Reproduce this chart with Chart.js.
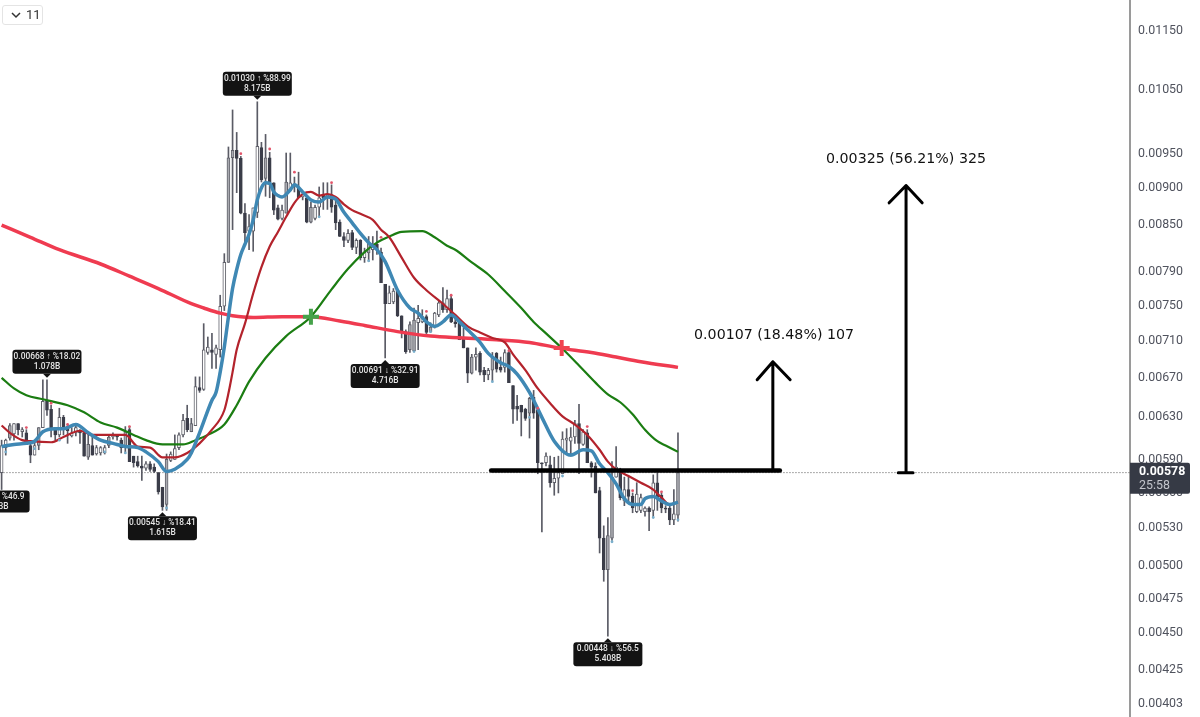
<!DOCTYPE html>
<html>
<head>
<meta charset="utf-8">
<style>
  html, body { margin: 0; padding: 0; background: #fff; overflow: hidden; }
  #wrap { position: relative; width: 1200px; height: 717px; }
  #collapse { position: absolute; left: 2px; top: 5px; width: 39px; height: 18px; border: 1px solid #e4e4e4; border-radius: 3px; background: #fff;
    font: 13px Roboto, sans-serif; color: #333; line-height: 18px; }
  #collapse svg { position: absolute; left: 8px; top: 6px; }
  #collapse span { position: absolute; left: 23px; top: 0; }
</style>
</head>
<body>
<div id="wrap">
  <canvas id="priceChart" width="1200" height="717"></canvas>
  <div id="collapse"><svg width="10" height="7"><path d="M1 1 L5 5 L9 1" fill="none" stroke="#333" stroke-width="1.5"/></svg><span>11</span></div>
</div>
<script src="https://cdn.jsdelivr.net/npm/chart.js@4"></script>
<script>
// prices are kept in points, 1 point = 0.00001
const POINT = 0.00001;

const opens = [
  578,601,610,614,624,616,615,603,594,603,
  620,647,638,620,613,630,621,612,615,617,
  615,592,603,595,596,596,603,611,612,608,
  601,618,593,588,584,582,586,583,578,565,
  550,589,590,601,613,629,616,622,660,658,
  697,700,695,700,749,802,944,955,943,866,
  842,842,867,959,914,944,908,873,859,866,
  897,903,901,888,887,854,859,874,891,887,
  891,877,854,835,830,840,821,830,808,814,
  818,825,815,775,752,754,768,738,720,700,
  699,730,731,737,720,725,739,753,745,758,
  731,730,713,702,675,692,696,678,673,678,
  696,681,681,697,662,641,642,638,634,650,
  637,587,587,585,569,573,577,608,607,611,
  624,604,615,587,584,562,522,497,522,574,
  580,553,563,557,544,545,544,547,545,569,
  558,547,547,537,541
];
const closes = [
  603,608,622,624,618,618,607,594,603,620,
  646,637,618,613,630,618,617,615,620,615,
  593,604,594,601,601,601,611,613,611,601,
  616,588,587,584,582,586,581,579,561,548,
  590,595,600,613,627,618,624,661,657,700,
  703,697,702,749,802,944,955,943,866,840,
  848,873,961,912,944,908,870,858,870,909,
  908,906,887,892,854,874,874,887,887,891,
  874,853,835,830,839,821,830,808,815,827,
  825,818,777,752,765,767,738,720,698,728,
  733,735,737,719,725,741,753,745,758,731,
  729,711,702,675,692,695,676,673,678,692,
  679,678,697,665,638,638,635,629,649,634,
  587,586,593,569,573,578,609,610,611,624,
  605,616,587,583,560,522,497,524,574,583,
  556,563,557,547,559,556,547,544,569,556,
  547,546,537,542,578
];
const highs = [
  608,609,624,624,624,620,618,606,606,620,
  668,668,642,620,639,632,623,620,622,618,
  617,615,613,603,602,603,613,615,613,610,
  621,621,593,593,593,588,588,586,578,565,
  595,597,613,615,633,642,629,671,671,729,
  714,718,705,762,813,960,1017,982,946,879,
  864,873,1030,967,979,952,908,877,877,951,
  951,916,923,895,888,881,877,902,908,908,
  905,884,857,840,844,843,832,831,820,835,
  835,842,820,775,773,770,768,738,722,731,
  747,750,745,739,730,742,756,771,768,762,
  735,731,724,702,695,702,698,681,680,697,
  697,692,700,700,662,652,642,639,650,657,
  639,587,596,593,592,593,616,619,620,627,
  643,618,618,588,587,565,532,539,588,602,
  582,574,574,560,569,559,548,548,576,578,
  560,549,549,563,615
];
const lows = [
  563,594,608,608,613,611,605,587,594,599,
  620,632,611,608,611,613,605,611,612,605,
  593,590,594,594,594,595,601,609,608,596,
  597,588,583,583,571,580,579,578,559,545,
  545,588,590,599,611,616,616,622,655,657,
  695,680,680,692,744,802,844,894,865,827,
  818,816,860,909,889,887,864,857,857,866,
  896,895,887,884,853,853,857,861,871,871,
  867,844,835,822,827,818,813,805,802,803,
  805,812,777,691,752,752,737,713,696,697,
  698,700,730,717,719,724,737,742,742,730,
  725,711,702,665,674,678,673,666,668,667,
  676,676,676,665,624,627,612,627,610,629,
  577,527,584,565,558,560,577,596,593,605,
  577,603,587,574,560,510,488,448,520,574,
  554,549,552,543,543,543,540,528,539,545,
  543,543,533,533,536
];
// up candles that the platform paints shaded instead of hollow
const shadedCandles = [2,9,21,26,30,40,46,55,56,64,69,75,89,99,100,104,114,119,128,147,148,164];

// moving averages, read at the bars where the curve can be made out
const fastBars = [0,3,6,8,10,13,15,18,21,24,27,30,33,35,38,40,42,45,46,48,51,52,53,54,55,56,57,58,59,60,61,62,63,64,65,66,67,68,70,71,73,75,77,79,81,83,85,87,89,91,93,96,99,101,103,105,107,109,111,113,116,118,121,123,125,128,131,134,138,141,143,145,147,149,151,153,155,156,158,160,162,164];
const fastValues = [602,604,605,607,616,619,619,623,615,608,605,602,601,597,588,579,581,590,596,615,647,655,676,703,737,770,793,812,825,838,857,884,901,908,907,895,890,888,898,905,895,884,881,888,885,867,853,839,827,818,803,768,747,741,731,726,731,739,731,722,708,696,686,682,674,655,630,607,594,599,598,586,578,568,555,550,550,555,557,553,550,552];

const midBars = [0,2,5,7,12,15,19,22,26,30,33,36,39,42,45,48,51,54,55,56,57,59,61,63,65,67,69,71,73,75,77,79,81,83,85,87,90,92,94,97,100,103,107,110,113,116,119,122,124,127,130,133,136,139,142,145,147,149,152,155,158,160,162,164];
const midValues = [622,615,608,607,606,611,617,613,613,613,602,601,592,592,596,605,618,637,654,676,700,729,764,796,822,841,861,880,892,895,890,892,888,878,870,865,857,844,834,808,783,768,752,739,726,719,713,708,695,678,659,644,631,623,613,599,588,581,575,569,563,556,550,552];

const slowBars = [0,3,6,10,16,20,24,28,32,35,39,44,47,50,54,57,60,64,69,75,80,84,88,91,94,97,102,105,108,110,114,118,122,126,129,132,136,140,144,147,150,153,156,159,161,164];
const slowValues = [670,659,652,648,642,635,625,620,613,608,604,604,608,613,623,642,666,691,715,737,769,794,815,827,835,841,842,834,823,818,802,787,767,747,731,718,701,683,665,653,645,633,618,607,603,597];

const longBars = [0,7,14,24,31,38,46,49,53,56,61,68,75,82,88,96,104,112,120,128,135,143,149,155,164];
const longValues = [850,834,818,800,785,770,752,747,741,738,736,737,737,732,727,720,715,713,711,708,702,697,692,687,681];

// small dots over and under single candles
const highDotBars = [6,12,16,31,58,65,71,80,92,103,109,123,130,142,153,160];
const highDotValues = [620,644,623,621,950,957,923,908,834,743,762,699,639,621,562,561];
const lowDotBars = [1,8,14,25,30,40,77,89,100,104,119,128,136,148,158,164];
const lowDotValues = [597,600,608,597,596,547,861,804,698,720,666,630,575,519,539,537];

// crossing signs
const crossUpBar = [75];
const crossUpValue = [737];
const crossDownBar = [135.8];
const crossDownValue = [702];

const lastPrice = 578;
const lastTimer = '25:58';

// drawn level and the two arrows, given in bars and points
const levelBars = [118.7, 188.7];
const levelValues = [580, 580];
const shortArrowBars = [187, 187, 183.2, 187, 191.2];
const shortArrowValues = [580, 687, 668, 687, 668];
const tallArrowBars = [217.4, 221, 219.3, 219.3, 215.2, 219.3, 223.2];
const tallArrowValues = [578, 578, 578, 904, 880, 904, 880];

const noteBars = [167.9, 199.9];
const noteValues = [716, 942];
const noteTexts = ['0.00107 (18.48%) 107', '0.00325 (56.21%) 325'];

// high / low callouts
const calloutBars = [62, 11, 39, 93, 147];
const calloutValues = [1030, 668, 545, 691, 448];
const calloutSides = ['above', 'above', 'below', 'below', 'below'];
const calloutTop = ['0.01030 ↑ %88.99', '0.00668 ↑ %18.02', '0.00545 ↓ %18.41', '0.00691 ↓ %32.91', '0.00448 ↓ %56.5'];
const calloutBottom = ['8.175B', '1.078B', '1.615B', '4.716B', '5.408B'];
const clippedTop = '↓ %46.9';
const clippedBottom = '3B';

const priceTicks = [0.0115, 0.0105, 0.0095, 0.009, 0.0085, 0.0079, 0.0075, 0.0071, 0.0067, 0.0063, 0.0059, 0.0056, 0.0053, 0.005, 0.00475, 0.0045, 0.00425, 0.00403];

const toPrice = v => v * POINT;
const pairUp = (bars, values) => bars.map((b, i) => ({ x: b, y: toPrice(values[i]) }));

const bars = opens.map((_, i) => i);
const isUp = i => closes[i] >= opens[i];

function bodyFill(i) {
  if (!isUp(i)) return '#3b3d49';
  return shadedCandles.includes(i) ? '#a9aab0' : '#ffffff';
}

function curve(label, b, v, color, width, order) {
  return {
    type: 'line', label: label, data: pairUp(b, v), borderColor: color, borderWidth: width,
    pointRadius: 0, tension: 0.35, cubicInterpolationMode: 'monotone', order: order
  };
}

function stroke(label, b, v, width, order) {
  return {
    type: 'line', label: label, data: pairUp(b, v), borderColor: '#000', borderWidth: width,
    pointRadius: 0, tension: 0, borderCapStyle: 'round', borderJoinStyle: 'round', order: order
  };
}

function dots(label, b, v, color, order) {
  return {
    type: 'line', label: label, data: pairUp(b, v), showLine: false, pointRadius: 1.4,
    pointBorderWidth: 0, pointBackgroundColor: color, order: order
  };
}

function cross(label, b, v, color, order) {
  return {
    type: 'line', label: label, data: pairUp(b, v), showLine: false, pointStyle: 'cross',
    pointRadius: 8, pointBorderWidth: 4, pointBorderColor: color, order: order
  };
}

function drawCallout(ctx, cx, anchorY, side, top, bottom) {
  const w = 69, h = 24, gap = 6;
  const boxY = side === 'above' ? anchorY - gap - h : anchorY + gap;
  ctx.fillStyle = '#131313';
  ctx.beginPath();
  ctx.roundRect(cx - w / 2, boxY, w, h, 3);
  ctx.fill();
  const tipBase = side === 'above' ? boxY + h : boxY;
  const tipEnd = side === 'above' ? tipBase + 4 : tipBase - 4;
  ctx.beginPath();
  ctx.moveTo(cx - 4, tipBase);
  ctx.lineTo(cx, tipEnd);
  ctx.lineTo(cx + 4, tipBase);
  ctx.fill();
  ctx.fillStyle = '#e6e6e6';
  ctx.font = '500 8.4px Roboto, sans-serif';
  ctx.textAlign = 'center';
  ctx.textBaseline = 'middle';
  ctx.fillText(top, cx, boxY + 7);
  ctx.fillText(bottom, cx, boxY + 17);
}

const overlayPlugin = {
  id: 'overlay',
  afterDraw(chart) {
    const ctx = chart.ctx, xs = chart.scales.x, ys = chart.scales.y;
    ctx.save();

    noteTexts.forEach((t, i) => {
      ctx.fillStyle = '#111';
      ctx.font = '14.2px "DejaVu Sans", sans-serif';
      ctx.textAlign = 'left';
      ctx.textBaseline = 'middle';
      ctx.fillText(t, xs.getPixelForValue(noteBars[i]), ys.getPixelForValue(toPrice(noteValues[i])));
    });

    calloutBars.forEach((b, i) => {
      drawCallout(ctx, xs.getPixelForValue(b), ys.getPixelForValue(toPrice(calloutValues[i])), calloutSides[i], calloutTop[i], calloutBottom[i]);
    });

    // the first callout is cut by the left edge of the window
    const firstX = xs.getPixelForValue(0);
    const firstY = ys.getPixelForValue(toPrice(lows[0]));
    ctx.fillStyle = '#131313';
    ctx.beginPath();
    ctx.roundRect(firstX - 37, firstY + 1, 65, 22, 3);
    ctx.fill();
    ctx.fillStyle = '#e6e6e6';
    ctx.font = '500 8.4px Roboto, sans-serif';
    ctx.textAlign = 'right';
    ctx.textBaseline = 'middle';
    ctx.fillText(clippedTop, firstX + 23, firstY + 7);
    ctx.fillText(clippedBottom, firstX + 7, firstY + 17);

    // last price tag on the axis
    const tagY = ys.getPixelForValue(toPrice(lastPrice));
    ctx.fillStyle = '#363a45';
    ctx.beginPath();
    ctx.roundRect(1130, tagY - 10, 60, 31, [0, 2, 2, 0]);
    ctx.fill();
    ctx.textAlign = 'left';
    ctx.fillStyle = '#ffffff';
    ctx.font = '700 12.4px Roboto, sans-serif';
    ctx.fillText((lastPrice * POINT).toFixed(5), 1139, tagY - 1);
    ctx.fillStyle = '#c3c5cc';
    ctx.font = '12.4px Roboto, sans-serif';
    ctx.fillText(lastTimer, 1139, tagY + 13);
    ctx.restore();
  }
};

const ctx = document.getElementById('priceChart').getContext('2d');
new Chart(ctx, {
  type: 'bar',
  data: {
    datasets: [
      {
        label: 'wick', data: bars.map(i => ({ x: i, y: [toPrice(lows[i]), toPrice(highs[i])] })),
        backgroundColor: '#5a5b65', barThickness: 1, grouped: false, order: 20
      },
      {
        label: 'body', data: bars.map(i => ({ x: i, y: [toPrice(Math.min(opens[i], closes[i])), toPrice(Math.max(opens[i], closes[i]))] })),
        backgroundColor: bars.map(bodyFill), borderColor: bars.map(i => isUp(i) ? '#5f6069' : '#3b3d49'),
        borderWidth: 1, borderSkipped: false, barThickness: 3, grouped: false, order: 19
      },
      {
        type: 'line', label: 'last', data: pairUp([-1, 274], [lastPrice, lastPrice]), borderColor: '#555',
        borderWidth: 1, borderDash: [1, 2], pointRadius: 0, order: 25
      },
      curve('long', longBars, longValues, '#ef3b50', 3.5, 9),
      curve('slow', slowBars, slowValues, '#1b7d12', 2.2, 8),
      curve('mid', midBars, midValues, '#b3232c', 2.2, 7),
      curve('fast', fastBars, fastValues, '#3f88b4', 3.5, 6),
      dots('high dots', highDotBars, highDotValues, '#e2556a', 5),
      dots('low dots', lowDotBars, lowDotValues, '#79aecb', 5),
      cross('cross up', crossUpBar, crossUpValue, '#46a24a', 4),
      cross('cross down', crossDownBar, crossDownValue, '#f0434f', 4),
      stroke('level', levelBars, levelValues, 4.5, 3),
      stroke('short arrow', shortArrowBars, shortArrowValues, 3, 2),
      stroke('tall arrow', tallArrowBars, tallArrowValues, 3, 2)
    ]
  },
  options: {
    responsive: false,
    animation: false,
    layout: { padding: 0, autoPadding: false },
    plugins: { legend: { display: false }, tooltip: { enabled: false } },
    scales: {
      x: { type: 'linear', display: false, min: -0.39, max: 273.6, offset: false },
      y: {
        type: 'logarithmic', position: 'right', min: 0.00395, max: 0.01207,
        afterFit(scale) { scale.width = 70; scale.paddingTop = 0; scale.paddingBottom = 0; },
        afterBuildTicks(scale) { scale.ticks = priceTicks.map(v => ({ value: v })); },
        grid: { display: false },
        border: { color: '#9a9a9a', width: 2 },
        ticks: {
          autoSkip: false, padding: 0, color: '#50535e', maxRotation: 0,
          font: { family: 'Roboto', size: 12.4 },
          callback: v => Number(v).toFixed(5)
        }
      }
    }
  },
  plugins: [overlayPlugin]
});
</script>
</body>
</html>
